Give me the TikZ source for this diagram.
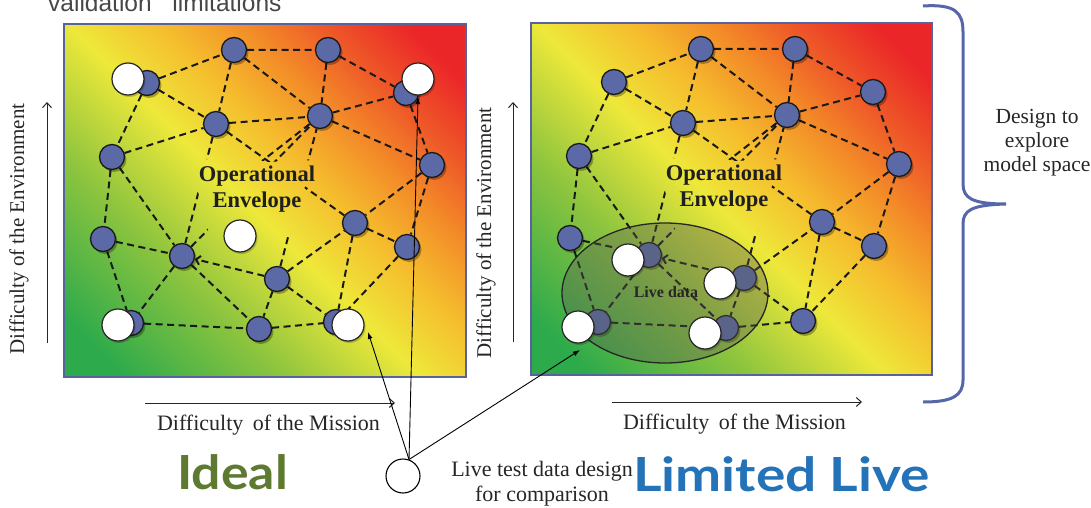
\documentclass[tikz,border=0pt]{standalone}
\usepackage{fontspec}
\setmainfont{Liberation Serif}
\newfontfamily\titlefont{Liberation Sans}
\newfontfamily\gillfont{Lato}
\usetikzlibrary{arrows.meta,shadows,shapes.geometric}
\definecolor{nodeblue}{RGB}{91,106,166}
\definecolor{boxborder}{RGB}{88,98,158}
\definecolor{bracecol}{RGB}{86,102,170}
\definecolor{idealgreen}{RGB}{94,122,48}
\definecolor{liveblue}{RGB}{36,114,184}
\definecolor{eG}{RGB}{45,170,75}
\definecolor{eYG}{RGB}{140,196,62}
\definecolor{eY}{RGB}{238,232,58}
\definecolor{eYO}{RGB}{245,188,45}
\definecolor{eO}{RGB}{243,138,40}
\definecolor{eOR}{RGB}{238,88,40}
\definecolor{eR}{RGB}{235,38,40}
\definecolor{ellfill}{RGB}{90,90,85}
\pgfdeclareverticalshading{envshade}{100bp}{color(0bp)=(eG); color(20bp)=(eG); color(35bp)=(eYG); color(48bp)=(eY); color(57bp)=(eYO); color(65bp)=(eO); color(72bp)=(eOR); color(80bp)=(eR); color(100bp)=(eR)}
\pgfdeclarelayer{boxes}
\pgfdeclarelayer{edges}
\pgfsetlayers{boxes,edges,main}
\tikzset{
  bn/.style={circle, draw=black!90, line width=1.3pt, fill=nodeblue, minimum size=25pt, inner sep=0pt,
    drop shadow={shadow xshift=2pt, shadow yshift=-2.5pt, opacity=0.3, fill=black}},
  wn/.style={circle, draw=black!85, line width=1.2pt, fill=white, minimum size=32pt, inner sep=0pt,
    drop shadow={shadow xshift=1.5pt, shadow yshift=-2pt, opacity=0.2, fill=black}},
  netline/.style={draw=black!90, line width=2pt, dash pattern=on 7pt off 4.5pt},
  ptr/.style={draw=black, line width=0.9pt, -{Latex[length=7pt,width=5pt]}},
  axarr/.style={draw=black!85, line width=1pt, -{Straight Barb[length=5pt,width=9pt]}},
  panel/.style={shade, shading=envshade, shading angle=-45, draw=boxborder, line width=2pt, inner sep=0pt},
  lab/.style={font=\fontsize{22}{25}\selectfont, text=black!85, inner sep=0pt},
  envlab/.style={font=\fontsize{21}{25}\selectfont, text=black!85, inner sep=0pt, rotate=90, anchor=base},
  optxt/.style={font=\fontsize{22.5}{26}\selectfont\bfseries, text=black!88, align=center, inner sep=0pt},
  big/.style={font=\gillfont\fontsize{47}{52}\selectfont\bfseries, inner sep=0pt, anchor=base}
}
\newcommand\drawnet[1]{%
  \node[bn] (#1a1) at (234,50) {};
  \node[bn] (#1a2) at (328,50) {};
  \node[bn] (#1a3) at (147,83) {};
  \node[bn] (#1a4) at (406,93) {};
  \node[bn] (#1a5) at (216,124) {};
  \node[bn] (#1a6) at (320,116) {};
  \node[bn] (#1a7) at (112,157) {};
  \node[bn] (#1a8) at (432,165) {};
  \node[bn] (#1a9) at (103,239) {};
  \node[bn] (#1a10) at (182,256) {};
  \node[bn] (#1a11) at (355,223) {};
  \node[bn] (#1a12) at (407,247) {};
  \node[bn] (#1a13) at (277,279) {};
  \node[bn] (#1a14) at (131,323) {};
  \node[bn] (#1a15) at (259,329) {};
  \node[bn] (#1a16) at (336,322) {};
  \coordinate (#1j) at (262,161);
  \begin{pgfonlayer}{edges}
  \begin{scope}[even odd rule]
    \clip (-200,-200) rectangle (1400,800)
      (198,160) -- (240,156) -- (268,162) -- (316,160) -- (303,192) -- (290,234) -- (210,238) -- (198,192) -- cycle;
    \draw[netline] (#1a3) -- (#1a1)  (#1a1) -- (#1a2)  (#1a2) -- (#1a4)  (#1a1) -- (#1a5)
      (#1a1) -- (#1a6)  (#1a2) -- (#1a6)  (#1a3) -- (#1a5)  (#1a5) -- (#1a6)  (#1a6) -- (#1a4)
      (#1a3) -- (#1a7)  (#1a7) -- (#1a5)  (#1a4) -- (#1a8)  (#1a6) -- (#1a8)  (#1a5) -- (#1a11)
      (#1a6) -- (#1j)   (#1a5) -- (#1a10) (#1a7) -- (#1a9)  (#1a7) -- (#1a10) (#1a9) -- (#1a10)
      (#1a9) -- (#1a14) (#1a10) -- (#1a14) (#1a10) -- (#1a15) (#1a13) -- (#1a15) (#1a13) -- (#1a16)
      (#1a13) -- (#1a11) (#1a11) -- (#1a12) (#1a11) -- (#1a16) (#1a12) -- (#1a16) (#1a8) -- (#1a12)
      (#1a8) -- (#1a11) (#1a14) -- (#1a15) (#1a15) -- (#1a16) (#1a13) -- (#1a6) (#1a10) -- (#1a6);
    \draw[netline, -{Straight Barb[length=4pt,width=9pt]}] (#1a13) -- (#1a10);
  \end{scope}
  \end{pgfonlayer}
}
\begin{document}
\begin{tikzpicture}[x=1pt, y=-1pt]
\useasboundingbox (0,0) rectangle (1091,508);
% title (cut off at top, as in the reference)
\node[anchor=base west, font=\titlefont\fontsize{24.5}{28}\selectfont, text=black!72, inner sep=0pt] (title) at (48,12) {validation\hspace{14pt} limitations};
% panels
\begin{pgfonlayer}{boxes}
\node[panel, minimum width=402pt, minimum height=353pt] (lbox) at (265,200.5) {};
\node[panel, minimum width=401pt, minimum height=352pt] (rbox) at (731.5,199) {};
\end{pgfonlayer}
% left network
\drawnet{L}
\node[wn] (Lw1) at (128,79) {};
\node[wn] (Lw2) at (418,79) {};
\node[wn] (Lw3) at (118,325) {};
\node[wn] (Lw4) at (348,325) {};
\node[wn] (Lw5) at (240,236) {};
\node[optxt] (lop) at (257,189) {Operational\\Envelope};
% right network
\begin{scope}[shift={(467,-1)}]
\drawnet{R}
\end{scope}
\node[ellipse, draw=black!85, line width=1.3pt, fill=ellfill, fill opacity=0.36, minimum width=206pt, minimum height=140pt, inner sep=0pt] (live) at (665,293) {};
\node[wn] (Rw1) at (628,260) {};
\node[wn] (Rw2) at (720,283) {};
\node[wn] (Rw3) at (578,327) {};
\node[wn] (Rw4) at (705,333) {};
\node[font=\fontsize{16}{18}\selectfont\bfseries, text=black!85, inner sep=0pt, anchor=base] (livetxt) at (666,297) {Live data};
\node[optxt] (rop) at (724,188) {Operational\\Envelope};
% axes
\coordinate (lx0) at (145,403); \coordinate (lx1) at (395,403);
\coordinate (rx0) at (612,402); \coordinate (rx1) at (862,402);
\coordinate (ly0) at (47,343); \coordinate (ly1) at (47,102);
\coordinate (ry0) at (513,342); \coordinate (ry1) at (513,102);
\draw[axarr] (lx0) -- (lx1);
\draw[axarr] (rx0) -- (rx1);
\draw[axarr] (ly0) -- (ly1);
\draw[axarr] (ry0) -- (ry1);
\node[lab, anchor=base] (lmis) at (268.5,430) {Difficulty\hspace{4pt} of the Mission};
\node[lab, anchor=base] (rmis) at (734.5,429) {Difficulty\hspace{4pt} of the Mission};
\node[envlab] (lenv) at (24,229) {Difficulty of the Environment};
\node[envlab] (renv) at (491,233) {Difficulty of the Environment};
% brace
\draw[bracecol, line width=3pt] (923,6) .. controls (955,4) and (963,12) .. (963,32) -- (963,184)
  .. controls (963,198) and (972,204) .. (1006,204) .. controls (972,205) and (963,210) .. (963,224)
  -- (963,380) .. controls (963,396) and (952,402) .. (923,402);
\node[lab, align=center, font=\fontsize{21.5}{24}\selectfont] (design) at (1037,143) {Design to\\explore\\model space};
% bottom labels
\node[big, text=idealgreen] (ideal) at (232.5,489) {\scalebox{1.1}[1]{Ideal}};
\node[big, text=liveblue] (limlive) at (781.5,491) {\scalebox{1.17}[1]{Limited Live}};
\node[circle, draw=black, line width=1.1pt, fill=white, minimum size=34pt, inner sep=0pt] (leg) at (403,476) {};
\node[lab, align=center] (legtxt) at (542,484) {Live test data design\\for comparison};
% pointers
\coordinate (p1) at (368,332);
\coordinate (p2) at (418,97);
\coordinate (p3) at (580,350);
\draw[ptr] (leg.70) -- (p1);
\draw[ptr] (leg.70) -- (p2);
\draw[ptr] (leg.70) -- (p3);
\end{tikzpicture}
\end{document}
